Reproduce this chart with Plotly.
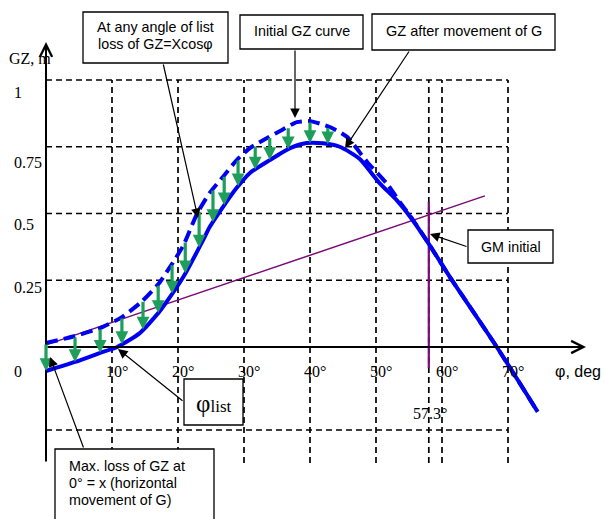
import numpy as np
import plotly.graph_objects as go

# ---------------- data ----------------
initial_angle = [0, 4.4, 8.2, 11.5, 14.5, 17.0, 18.8, 20.8, 22.9, 24.8, 26.8, 28.9, 30.9, 33.5, 35.9, 38.0,
                 40.0, 43.0, 45.6, 48.6, 51.7, 53.6, 55.5, 57.9, 61.2, 68.3, 74.5]
initial_gz = [0.015, 0.041, 0.071, 0.112, 0.17, 0.235, 0.30, 0.38, 0.50, 0.577, 0.637, 0.70, 0.745, 0.783, 0.815, 0.842,
              0.846, 0.824, 0.787, 0.695, 0.610, 0.543, 0.480, 0.39, 0.262, 0.0, -0.243]

moved_angle = [0, 4.4, 8.2, 10.8, 14.2, 17.0, 17.6, 20.8, 23.8, 24.8, 26.8, 28.9, 30.9, 33.9, 37.0, 39.5,
               42.0, 44.5, 47.5, 50.5, 53.2, 55.2, 57.9, 61.2, 68.3, 74.5]
moved_gz = [-0.09, -0.056, -0.022, 0.0, 0.052, 0.127, 0.146, 0.262, 0.40, 0.449, 0.524, 0.596, 0.652, 0.70, 0.745, 0.764,
            0.763, 0.750, 0.705, 0.615, 0.548, 0.487, 0.39, 0.262, 0.0, -0.243]

gm_line_angle = [0, 66.5]
gm_line_gz = [0.008, 0.566]
gm_marker_angle = 58.0
gm_marker_gz = [0.543, -0.079]
gm_label = "57.3°"

loss_arrow_angles = [0, 4.4, 8.2, 11.5, 14.7, 17.0, 19.1, 21.1, 23.2, 25.3, 27.0, 29.1, 31.7, 33.9, 36.7, 40.0, 42.7]

angle_ticks = [10, 20, 30, 40, 50, 60, 70]
angle_labels = ["10°", "20°", "30°", "40°", "50°", "60°", "70°"]
gz_ticks = [0, 0.25, 0.5, 0.75, 1]
gz_labels = ["0", "0.25", "0.5", "0.75", "1"]

# ---------------- layout helpers (pixel -> data) ----------------
W, H = 605, 519
X0, SX = 46.0, 6.6
Y0, SY = 347.0, 267.0


def dx(p):
    return (p - X0) / SX


def dy(p):
    return (Y0 - p) / SY


SERIF = "Liberation Serif, Times New Roman, serif"
SANS = "Liberation Sans, Arial, sans-serif"
BLUE = "#0000F0"
GREEN = "#1E9E5A"
PURPLE = "#7A0A7A"

fig = go.Figure()

# GM initial line
fig.add_trace(go.Scatter(x=gm_line_angle, y=gm_line_gz, mode="lines",
                         line=dict(color=PURPLE, width=1.5), hoverinfo="skip"))
fig.add_trace(go.Scatter(x=[gm_marker_angle, gm_marker_angle], y=gm_marker_gz, mode="lines",
                         line=dict(color=PURPLE, width=2.2), hoverinfo="skip"))
# curves
fig.add_trace(go.Scatter(x=initial_angle, y=initial_gz, mode="lines",
                         line=dict(color=BLUE, width=4, dash="12px,6px", shape="spline", smoothing=0.6),
                         hoverinfo="skip"))
fig.add_trace(go.Scatter(x=moved_angle, y=moved_gz, mode="lines",
                         line=dict(color=BLUE, width=4, shape="spline", smoothing=0.6),
                         hoverinfo="skip"))

shapes = []
GRID = dict(color="black", width=1.7, dash="6px,4px")
top_v = 1.0
bottom_v = dy(463)
for v in [1, 0.75, 0.5, 0.25]:
    shapes.append(dict(type="line", x0=0, x1=70, y0=v, y1=v, line=GRID, layer="below"))
shapes.append(dict(type="line", x0=0, x1=70, y0=dy(430), y1=dy(430), line=GRID, layer="below"))
for v in angle_ticks + [gm_marker_angle]:
    shapes.append(dict(type="line", x0=v, x1=v, y0=bottom_v, y1=top_v, line=GRID, layer="below"))

# annotation boxes (pixel rectangles)
boxes = [(83, 12, 228, 63), (240, 15, 363, 49), (372, 14, 555, 50), (468, 230, 553, 263),
         (184, 379, 243, 425), (55, 449, 214, 530)]
for (a, b, c, d) in boxes:
    shapes.append(dict(type="rect", x0=dx(a), x1=dx(c), y0=dy(d), y1=dy(b),
                       line=dict(color="black", width=1.3), fillcolor="white", layer="above"))

ann = []
# axes with chevron arrowheads
ann.append(dict(x=0, y=dy(42), ax=0, ay=bottom_v, xref="x", yref="y", axref="x", ayref="y",
                showarrow=True, arrowhead=5, arrowsize=1.2, arrowwidth=2, arrowcolor="black", text="",
                standoff=0, startstandoff=0))
ann.append(dict(x=dx(586), y=0, ax=0, ay=0, xref="x", yref="y", axref="x", ayref="y",
                showarrow=True, arrowhead=5, arrowsize=1.2, arrowwidth=2, arrowcolor="black", text="",
                standoff=0, startstandoff=0))

# green loss arrows
for a in loss_arrow_angles:
    y_from = float(np.interp(a, initial_angle, initial_gz))
    y_to = float(np.interp(a, moved_angle, moved_gz))
    ann.append(dict(x=a, y=y_to, ax=a, ay=y_from, xref="x", yref="y", axref="x", ayref="y",
                    showarrow=True, arrowhead=2, arrowsize=0.8, arrowwidth=3.2, arrowcolor=GREEN,
                    text="", standoff=0))

# black pointer arrows (tail px -> tip px)
pointers = [((163, 63), (198, 218)), ((295, 49), (295, 118)), ((410, 50), (345, 148)),
            ((468, 247), (430, 234)), ((184, 402), (118, 349)), ((84, 449), (50, 357))]
for (t, h) in pointers:
    ann.append(dict(x=dx(h[0]), y=dy(h[1]), ax=dx(t[0]), ay=dy(t[1]), xref="x", yref="y",
                    axref="x", ayref="y", showarrow=True, arrowhead=2, arrowsize=1.6, arrowwidth=1.2,
                    arrowcolor="black", text="", standoff=0))


def txt(px, py, s, size=14, family=SANS, anchor="center"):
    ann.append(dict(x=dx(px), y=dy(py), xref="x", yref="y", text=s, showarrow=False,
                    font=dict(family=family, size=size, color="black"), xanchor=anchor, yanchor="middle"))


# box texts
txt(155, 27, "At any angle of list", size=14.3)
txt(155, 44, "loss of GZ=Xcosφ", size=14.3)
txt(302, 31, "Initial GZ curve", size=14.3)
txt(464, 31, "GZ after movement of G", size=14.5)
txt(511, 247, "GM initial", size=14.3)
txt(67, 466, "Max. loss of GZ at", size=14.3, anchor="left")
txt(67, 483, "0° = x (horizontal", size=14.3, anchor="left")
txt(67, 500, "movement of G)", size=14.3, anchor="left")
ann.append(dict(x=dx(214), y=dy(403), xref="x", yref="y", showarrow=False,
                text="φ<span style='font-size:17px'>list</span>",
                font=dict(family=SERIF, size=25, color="black"), xanchor="center", yanchor="middle"))

# axis titles
txt(7, 58, "GZ, m", size=16, family=SERIF, anchor="left")
txt(553, 371, "φ, deg", size=16, family=SANS, anchor="left")

# tick labels
gz_label_px = {0: 371, 0.25: 287, 0.5: 224, 0.75: 162, 1: 92}
for v, lab in zip(gz_ticks, gz_labels):
    ann.append(dict(x=dx(12), y=v, xref="x", yref="y", text=lab, showarrow=False,
                    yshift=(Y0 - gz_label_px[v]) - v * SY,
                    font=dict(family=SERIF, size=16, color="black"), xanchor="left", yanchor="middle"))
for v, lab in zip(angle_ticks, angle_labels):
    ann.append(dict(x=v, y=0, xref="x", yref="y", text=lab, showarrow=False, xshift=5, yshift=-24,
                    font=dict(family=SERIF, size=16, color="black"), xanchor="center", yanchor="middle"))
ann.append(dict(x=gm_marker_angle, y=0, xref="x", yref="y", text=gm_label, showarrow=False,
                xshift=1, yshift=-66, font=dict(family=SERIF, size=16, color="black"),
                xanchor="center", yanchor="middle"))

fig.update_layout(
    width=W, height=H, autosize=False,
    margin=dict(l=0, r=0, t=0, b=0, pad=0),
    paper_bgcolor="white", plot_bgcolor="white",
    showlegend=False,
    xaxis=dict(range=[dx(0), dx(W)], visible=False, fixedrange=True),
    yaxis=dict(range=[dy(H), dy(0)], visible=False, fixedrange=True),
    shapes=shapes, annotations=ann,
)

fig.write_html("out.html", config={"displayModeBar": False},
               post_script="document.body.style.margin='0';document.body.style.overflow='hidden';")
